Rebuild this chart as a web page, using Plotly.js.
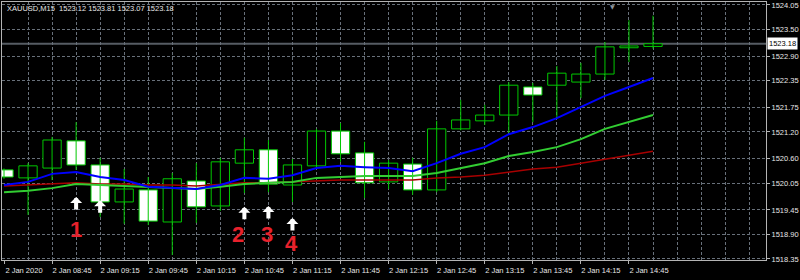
<!DOCTYPE html>
<html><head><meta charset="utf-8">
<script src="https://cdn.plot.ly/plotly-3.0.1.min.js"></script>
<style>html,body{margin:0;padding:0;background:#000;}#chart{width:800px;height:280px;}</style>
</head><body><div id="chart"></div>
<script>
const symbolLabel = "XAUUSD,M15";
const dayLabel = "2 Jan";
const firstLabel = "2 Jan 2020";
const times = ["08:15","08:30","08:45","09:00","09:15","09:30","09:45","10:00","10:15","10:30","10:45","11:00","11:15","11:30","11:45","12:00","12:15","12:30","12:45","13:00","13:15","13:30","13:45","14:00","14:15","14:30","14:45","15:00"];
const opens  = [1520.35,1520.17,1520.39,1521.00,1520.46,1519.63,1519.90,1519.18,1520.10,1519.54,1520.50,1520.80,1520.01,1520.44,1521.22,1520.73,1520.08,1520.48,1519.90,1521.27,1521.45,1521.58,1522.21,1522.25,1522.32,1522.50,1523.09,1523.12];
const highs  = [1520.38,1520.50,1521.09,1521.42,1520.62,1520.37,1520.19,1520.28,1520.50,1520.62,1521.07,1521.02,1520.59,1521.27,1521.40,1520.98,1520.57,1520.62,1521.45,1521.92,1521.81,1522.32,1522.30,1522.68,1522.75,1523.22,1523.71,1523.81];
const lows   = [1520.15,1519.34,1520.12,1520.35,1519.29,1519.14,1519.11,1518.44,1519.16,1519.43,1519.83,1519.85,1519.63,1520.41,1520.53,1519.72,1519.92,1519.79,1519.85,1521.24,1521.36,1521.18,1521.42,1521.51,1521.96,1522.37,1522.77,1523.07];
const closes = [1520.19,1520.44,1521.02,1520.46,1519.63,1519.92,1519.20,1520.15,1519.52,1520.53,1520.80,1520.03,1520.46,1521.22,1520.71,1520.06,1520.50,1519.90,1521.27,1521.47,1521.58,1522.25,1522.03,1522.52,1522.50,1523.11,1523.13,1523.18];
const maBlue  = [1520.01,1520.08,1520.26,1520.30,1520.19,1520.12,1519.97,1519.94,1519.92,1520.01,1520.17,1520.15,1520.23,1520.39,1520.44,1520.41,1520.39,1520.32,1520.50,1520.71,1520.86,1521.15,1521.31,1521.51,1521.76,1522.01,1522.21,1522.41];
const maGreen = [1519.85,1519.88,1519.94,1520.03,1520.01,1519.99,1519.97,1519.94,1519.92,1519.97,1520.03,1520.06,1520.08,1520.17,1520.19,1520.21,1520.21,1520.21,1520.28,1520.39,1520.50,1520.66,1520.75,1520.86,1521.04,1521.27,1521.42,1521.58];
const maRed   = [1519.99,1520.01,1520.03,1520.06,1520.03,1520.03,1520.01,1520.01,1519.99,1520.03,1520.06,1520.06,1520.08,1520.10,1520.12,1520.12,1520.12,1520.12,1520.17,1520.19,1520.23,1520.30,1520.37,1520.41,1520.50,1520.59,1520.68,1520.77];
const priceTicks = [1524.05,1523.50,1522.90,1522.35,1521.75,1521.20,1520.60,1520.05,1519.45,1518.90,1518.35];
const bidPrice = 1523.18;
const arrowIdx   = [3,4,10,11,12];
const arrowPrice = [1519.74,1519.67,1519.52,1519.54,1519.27];
const signalText  = ["1","2","3","4"];
const signalIdx   = [3,9.73,10.94,11.98];
const signalPrice = [1519.02,1518.91,1518.91,1518.69];

const idx = times.map((t,i)=>i);
const FONT = "Liberation Sans, Arial, sans-serif";
const FS = 7.5;
const TXT = "#e6e6e6";
const CANDLE = "#00c800";
const GRID = "#68707a";

// wicks
const wx=[], wy=[];
idx.forEach(i=>{wx.push(i,i,null); wy.push(lows[i],highs[i],null);});

const bull = idx.map(i=>closes[i]>=opens[i]);
const traces = [
  {type:'scatter',mode:'lines',x:wx,y:wy,line:{color:CANDLE,width:1},hoverinfo:'skip',showlegend:false},
  {type:'bar',x:idx,base:opens,y:idx.map(i=>closes[i]-opens[i]),width:0.76,
   marker:{color:bull.map(b=>b?'#000000':'#ffffff'),line:{color:CANDLE,width:1}},hoverinfo:'skip',showlegend:false},
  {type:'scatter',mode:'lines',x:idx,y:maRed,line:{color:'#a80000',width:1.5},showlegend:false,hoverinfo:'skip'},
  {type:'scatter',mode:'lines',x:idx,y:maGreen,line:{color:'#32cd32',width:2},showlegend:false,hoverinfo:'skip'},
  {type:'scatter',mode:'lines',x:idx,y:maBlue,line:{color:'#0000ff',width:2},showlegend:false,hoverinfo:'skip'},
  {type:'scatter',mode:'lines',x:[],y:[],xaxis:'x2',yaxis:'y',showlegend:false,hoverinfo:'skip'}
];

const tickVals=[], tickText=[];
for(let i=0;i<times.length;i+=2){tickVals.push(i); tickText.push(i===0?firstLabel:dayLabel+" "+times[i]);}
const gridVals=[]; for(let i=1;i<=31;i++) gridVals.push(i);

const xr=[-0.083,31.70];
const annotations=[];
const last=times.length-1;
annotations.push({xref:'paper',yref:'paper',x:0,y:1,xanchor:'left',yanchor:'top',xshift:3,yshift:0,showarrow:false,
  text:symbolLabel+"&nbsp;&nbsp;"+[opens[last],highs[last],lows[last],closes[last]].map(v=>v.toFixed(2)).join(" "),
  font:{family:FONT,size:FS,color:TXT}});
annotations.push({xref:'paper',yref:'y',x:1,y:bidPrice,xanchor:'left',yanchor:'middle',xshift:1,showarrow:false,
  text:bidPrice.toFixed(2),bgcolor:'#ffffff',borderpad:1,font:{family:FONT,size:FS,color:'#000000'}});
annotations.push({xref:'x',yref:'paper',x:25.33,y:1,xanchor:'center',yanchor:'top',yshift:1,showarrow:false,
  text:'▼',font:{family:'DejaVu Sans',size:6,color:'#8c949c'}});
arrowIdx.forEach((a,k)=>{
  annotations.push({xref:'x',yref:'y',x:a,y:arrowPrice[k],ax:0,ay:14,showarrow:true,arrowhead:1,arrowsize:0.5,arrowwidth:4,arrowcolor:'#ffffff',text:''});
});
signalText.forEach((s,k)=>{
  annotations.push({xref:'x',yref:'y',x:signalIdx[k],y:signalPrice[k],showarrow:false,text:'<b>'+s+'</b>',
    font:{family:'Liberation Sans, Arial, sans-serif',size:22,color:'#e8212c'}});
});

const layout={
  width:800,height:280,margin:{l:2,r:34,t:2,b:20},
  paper_bgcolor:'#000000',plot_bgcolor:'#000000',
  barmode:'overlay',showlegend:false,hovermode:false,
  font:{family:FONT,size:FS,color:TXT},
  xaxis:{range:xr,tickmode:'array',tickvals:tickVals,ticktext:tickText,tickangle:0,ticklabelshift:20,
    showgrid:false,zeroline:false,ticks:'outside',ticklen:3,tickcolor:'#b4b4b4',
    showline:true,linecolor:'#b4b4b4',linewidth:1,mirror:true,tickfont:{family:FONT,size:FS,color:TXT}},
  xaxis2:{overlaying:'x',range:xr,tickmode:'array',tickvals:gridVals,showticklabels:false,ticks:'',
    showgrid:true,gridcolor:GRID,griddash:'3px,2px',gridwidth:1,zeroline:false,showline:false},
  yaxis:{range:[1518.327,1524.117],side:'right',tickmode:'array',tickvals:priceTicks,ticktext:priceTicks.map(v=>v.toFixed(2)),
    showgrid:true,gridcolor:GRID,griddash:'3px,2px',gridwidth:1,zeroline:false,ticks:'outside',ticklen:3,tickcolor:'#b4b4b4',
    showline:true,linecolor:'#b4b4b4',linewidth:1,mirror:true,tickfont:{family:FONT,size:FS,color:TXT}},
  shapes:[{type:'line',xref:'paper',x0:0,x1:1,yref:'y',y0:bidPrice,y1:bidPrice,line:{color:'#565c63',width:2},layer:'below'}],
  annotations:annotations
};
Plotly.newPlot('chart',traces,layout,{displayModeBar:false,staticPlot:true});
</script></body></html>
